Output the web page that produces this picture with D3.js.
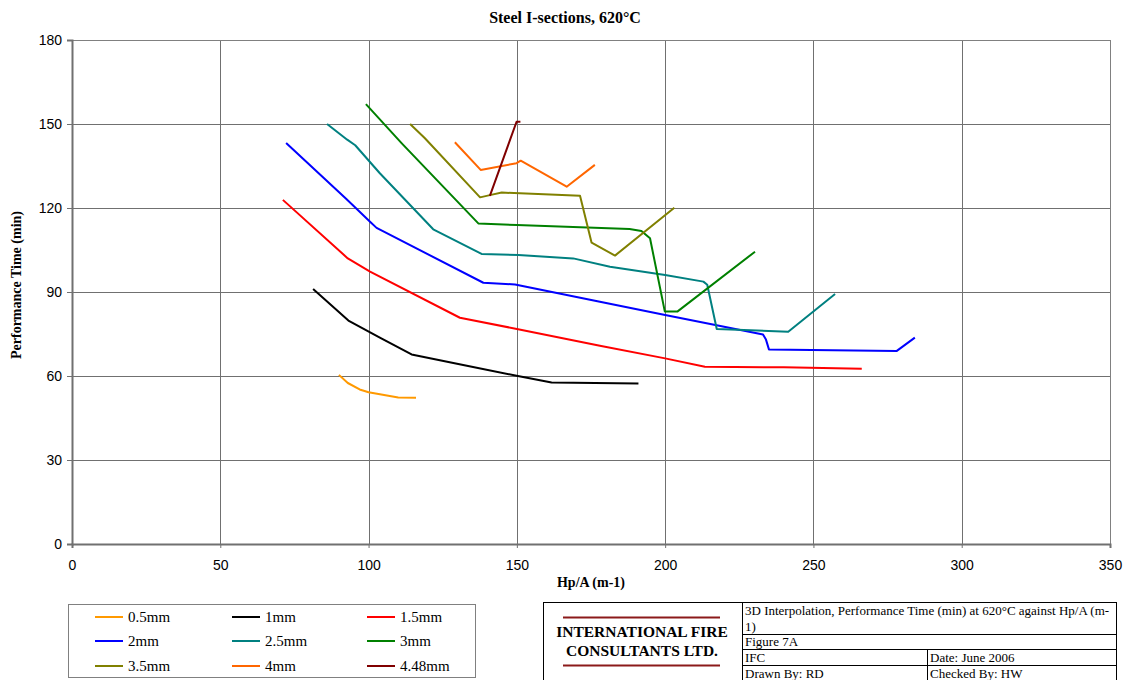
<!DOCTYPE html>
<html>
<head>
<meta charset="utf-8">
<script src="https://cdn.jsdelivr.net/npm/d3@7"></script>
<style>
  html, body { margin: 0; padding: 0; background: #ffffff; }
  svg { display: block; }
</style>
</head>
<body>
<svg id="chart" width="1128" height="680"></svg>
<script>
// Performance time (min) at 620°C against section factor Hp/A (m-1), per board thickness
const xTicks = [0, 50, 100, 150, 200, 250, 300, 350];
const yTicks = [0, 30, 60, 90, 120, 150, 180];

const seriesNames = ["0.5mm", "1mm", "1.5mm", "2mm", "2.5mm", "3mm", "3.5mm", "4mm", "4.48mm"];
const seriesColors = ["#FF9900", "#000000", "#FF0000", "#0000FF", "#008080", "#008000", "#808000", "#FF6600", "#800000"];

const t05 = [[90, 60.4], [93, 57.5], [97, 55.2], [100, 54.2], [110, 52.3], [116, 52.2]];
const t10 = [[81.3, 91.1], [93.2, 79.8], [103.8, 73.7], [114.5, 67.7], [131.9, 63.9], [149.9, 60.1], [161.7, 57.7], [191, 57.3]];
const t15 = [[71.1, 122.9], [93, 102], [100.5, 97.3], [130.8, 80.8], [150, 76.8], [178, 70.8], [200, 66.3], [213.4, 63.3], [240, 63.1], [266.3, 62.6]];
const t20 = [[72.2, 143.2], [92.6, 123.1], [100.5, 115.1], [102.7, 112.9], [138.7, 93.3], [149.4, 92.7], [178, 86.5], [200, 81.8], [233, 74.8], [234, 73], [235, 69.5], [278, 68.9], [284.2, 73.7]];
const t25 = [[86, 150], [92.8, 144.4], [95.5, 142.4], [103.8, 132.4], [121.8, 112.4], [138.1, 103.6], [150.5, 103.2], [169, 102], [181.4, 99], [200, 96.1], [212.9, 93.7], [214.2, 92.6], [217.4, 76.8], [241.5, 75.8], [257.3, 89.3]];
const t30 = [[99.1, 157.1], [111.2, 143.1], [137, 114.5], [150, 113.9], [188, 112.5], [192, 111.8], [194.9, 109.2], [199.9, 83], [204.1, 83], [230.3, 104.4]];
const t35 = [[114, 150], [119, 144.9], [137.6, 123.8], [140.9, 124.6], [144.9, 125.5], [171.3, 124.4], [175.2, 107.6], [183.1, 103], [203.1, 120.1]];
const t40 = [[129.1, 143.5], [137.8, 133.6], [149.9, 136], [151.3, 136.9], [166.8, 127.6], [176.3, 135.4]];
const t448 = [[140.9, 124.3], [149.9, 150.8], [151.2, 150.8]];

const seriesData = [t05, t10, t15, t20, t25, t30, t35, t40, t448];

const svg = d3.select("#chart");
const W = 1128, H = 680;
svg.append("rect").attr("width", W).attr("height", H).attr("fill", "#ffffff");

const plot = { left: 72, right: 1110, top: 40, bottom: 544 };
const x = d3.scaleLinear().domain([0, 350]).range([plot.left, plot.right]);
const y = d3.scaleLinear().domain([0, 180]).range([plot.bottom, plot.top]);

const serif = "'Liberation Serif', 'Times New Roman', serif";
const sans = "'Liberation Sans', Arial, sans-serif";

// Subtitle
svg.append("text")
  .attr("x", 565).attr("y", 23)
  .attr("text-anchor", "middle")
  .attr("font-family", serif).attr("font-weight", "bold").attr("font-size", 16)
  .text("Steel I-sections, 620°C");

// Gridlines
const grid = svg.append("g");
grid.selectAll("line.v").data(xTicks.slice(1, -1)).join("line")
  .attr("x1", d => Math.round(x(d)) + 0.5).attr("x2", d => Math.round(x(d)) + 0.5)
  .attr("y1", plot.top).attr("y2", plot.bottom)
  .attr("stroke", "#707070").attr("stroke-width", 1);
grid.selectAll("line.h").data(yTicks.slice(1, -1)).join("line")
  .attr("x1", plot.left).attr("x2", plot.right)
  .attr("y1", d => Math.round(y(d)) + 0.5).attr("y2", d => Math.round(y(d)) + 0.5)
  .attr("stroke", "#707070").attr("stroke-width", 1);

// Plot area border
svg.append("rect")
  .attr("x", plot.left + 0.5).attr("y", plot.top + 0.5)
  .attr("width", plot.right - plot.left).attr("height", plot.bottom - plot.top)
  .attr("fill", "none").attr("stroke", "#808080").attr("stroke-width", 1);

// Axes
const yAxis = d3.axisLeft(y).tickValues(yTicks).tickSize(5).tickPadding(5).tickFormat(d3.format("d"));
const xAxis = d3.axisBottom(x).tickValues(xTicks).tickSize(4).tickPadding(12).tickFormat(d3.format("d"));

const gy = svg.append("g").attr("transform", `translate(${plot.left},0)`).call(yAxis);
const gx = svg.append("g").attr("transform", `translate(0,${plot.bottom})`).call(xAxis);
[gx, gy].forEach(g => {
  g.select(".domain").attr("stroke", "#707070").attr("stroke-width", 2);
  g.selectAll(".tick line").attr("stroke", "#707070");
  g.selectAll(".tick text")
    .attr("font-family", sans).attr("font-size", 14).attr("fill", "#000");
});

// Axis titles
svg.append("text")
  .attr("x", 591).attr("y", 587)
  .attr("text-anchor", "middle")
  .attr("font-family", serif).attr("font-weight", "bold").attr("font-size", 14)
  .text("Hp/A (m-1)");
svg.append("text")
  .attr("transform", "translate(21,285) rotate(-90)")
  .attr("text-anchor", "middle")
  .attr("font-family", serif).attr("font-weight", "bold").attr("font-size", 14)
  .text("Performance Time (min)");

// Series lines
const line = d3.line().x(d => x(d[0])).y(d => y(d[1]));
svg.append("g").selectAll("path").data(seriesData).join("path")
  .attr("d", line)
  .attr("fill", "none")
  .attr("stroke", (d, i) => seriesColors[i])
  .attr("stroke-width", 2)
  .attr("stroke-linejoin", "round");

// Legend
const legend = svg.append("g");
legend.append("rect")
  .attr("x", 68.5).attr("y", 604.5).attr("width", 407).attr("height", 73)
  .attr("fill", "#fff").attr("stroke", "#808080").attr("stroke-width", 1);
const colX = [95, 232, 367];
const rowY = [617, 641, 666];
const items = legend.selectAll("g.item").data(seriesNames).join("g")
  .attr("transform", (d, i) => `translate(${colX[i % 3]},${rowY[Math.floor(i / 3)]})`);
items.append("line")
  .attr("x1", 0).attr("x2", 28).attr("y1", 0).attr("y2", 0)
  .attr("stroke", (d, i) => seriesColors[i]).attr("stroke-width", 2);
items.append("text")
  .attr("x", 33).attr("y", 5)
  .attr("font-family", serif).attr("font-size", 15)
  .text(d => d);

// Title block
const tb = svg.append("g").attr("font-family", serif).attr("font-size", 13);
const tbL = 543, tbM = 742, tbD = 927, tbR = 1116, tbT = 602;
const rows = [634, 649, 665];
tb.append("rect").attr("x", tbL + 0.5).attr("y", tbT + 0.5).attr("width", tbR - tbL).attr("height", 90)
  .attr("fill", "#fff").attr("stroke", "#000").attr("stroke-width", 1);
tb.append("line").attr("x1", tbM + 0.5).attr("x2", tbM + 0.5).attr("y1", tbT).attr("y2", 690).attr("stroke", "#000");
rows.forEach(r => {
  tb.append("line").attr("x1", tbM).attr("x2", tbR).attr("y1", r + 0.5).attr("y2", r + 0.5).attr("stroke", "#000");
});
tb.append("line").attr("x1", tbD + 0.5).attr("x2", tbD + 0.5).attr("y1", rows[1]).attr("y2", 690).attr("stroke", "#000");

// Cell texts (first cell wraps onto a clipped second line)
tb.append("clipPath").attr("id", "cell1").append("rect")
  .attr("x", tbM + 1).attr("y", tbT + 1).attr("width", tbR - tbM - 2).attr("height", rows[0] - tbT - 1);
const c1 = tb.append("g").attr("clip-path", "url(#cell1)");
c1.append("text").attr("x", tbM + 3).attr("y", 615).text("3D Interpolation, Performance Time (min) at 620°C against Hp/A (m-");
c1.append("text").attr("x", tbM + 3).attr("y", 631).text("1)");
tb.append("text").attr("x", tbM + 3).attr("y", 646).text("Figure 7A");
tb.append("text").attr("x", tbM + 3).attr("y", 662).text("IFC");
tb.append("text").attr("x", tbD + 3).attr("y", 662).text("Date: June 2006");
tb.append("text").attr("x", tbM + 3).attr("y", 678).text("Drawn By: RD");
tb.append("text").attr("x", tbD + 3).attr("y", 678).text("Checked By: HW");

// Company name with rules
const cx = 642;
tb.append("line").attr("x1", 563).attr("x2", 720).attr("y1", 617.5).attr("y2", 617.5)
  .attr("stroke", "#8B1A1A").attr("stroke-width", 2);
tb.append("line").attr("x1", 563).attr("x2", 720).attr("y1", 665.5).attr("y2", 665.5)
  .attr("stroke", "#8B1A1A").attr("stroke-width", 2);
tb.append("text").attr("x", cx).attr("y", 637).attr("text-anchor", "middle")
  .attr("font-weight", "bold").attr("font-size", 15.5).text("INTERNATIONAL FIRE");
tb.append("text").attr("x", cx).attr("y", 656).attr("text-anchor", "middle")
  .attr("font-weight", "bold").attr("font-size", 15.5).text("CONSULTANTS LTD.");
</script>
</body>
</html>
